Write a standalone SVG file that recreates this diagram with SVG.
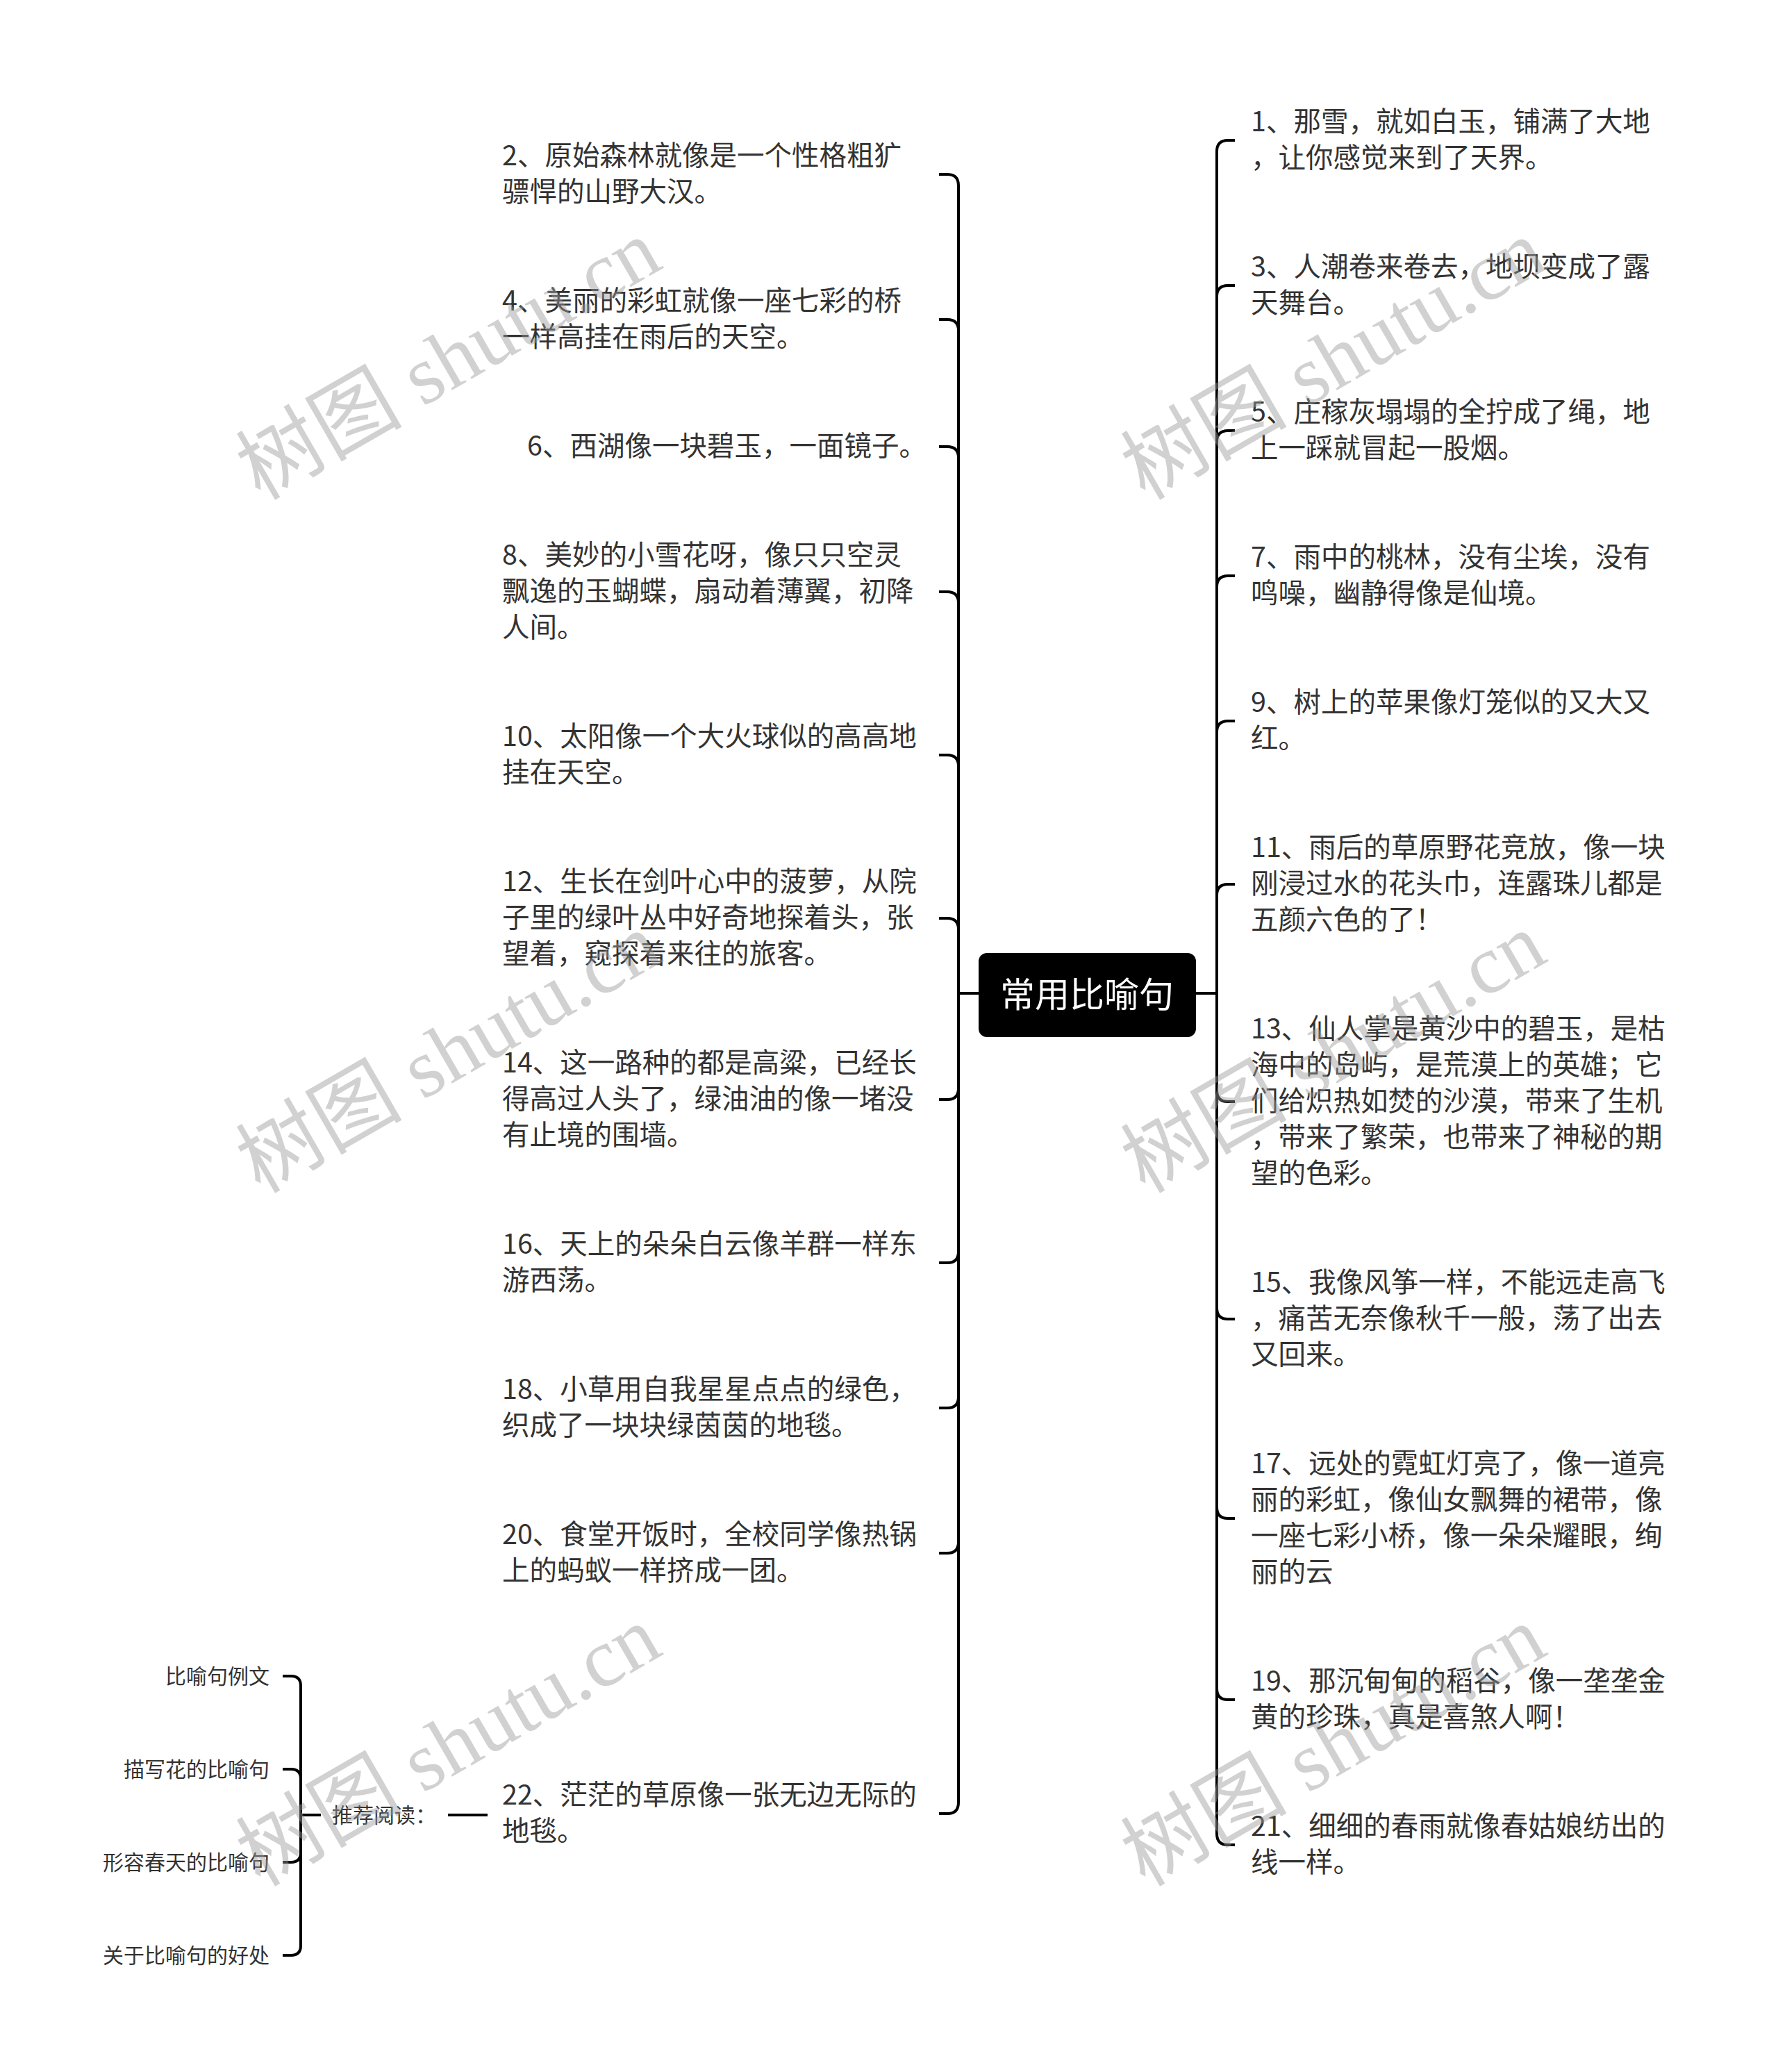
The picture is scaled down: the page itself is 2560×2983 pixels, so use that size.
<svg xmlns="http://www.w3.org/2000/svg" width="2560" height="2983" viewBox="0 0 2560 2983">
<style>
.t{font-family:"Noto Sans CJK SC","Noto Sans",sans-serif;font-size:39.5px;fill:#333;}
.s{font-family:"Noto Sans CJK SC","Noto Sans",sans-serif;font-size:30px;fill:#333;}
.root{font-family:"Noto Sans CJK SC","Noto Sans",sans-serif;font-size:50px;fill:#fff;}
.c{fill:none;stroke:#000;stroke-width:4;}
.wm{font-family:"Liberation Serif","Noto Sans CJK SC",serif;font-size:120px;fill:#999;fill-opacity:0.45;}
</style>
<rect width="2560" height="2983" fill="#fff"/>
<g id="connectors">
<path class="c" d="M1409 1430 H1380"/>
<path class="c" d="M1722 1430 H1752"/>
<path class="c" d="M1380 1430 V267 Q1380 251 1364 251 H1352"/>
<path class="c" d="M1380 1430 V476 Q1380 460 1364 460 H1352"/>
<path class="c" d="M1380 1430 V659 Q1380 643 1364 643 H1352"/>
<path class="c" d="M1380 1430 V868 Q1380 852 1364 852 H1352"/>
<path class="c" d="M1380 1430 V1103 Q1380 1087 1364 1087 H1352"/>
<path class="c" d="M1380 1430 V1338 Q1380 1322 1364 1322 H1352"/>
<path class="c" d="M1380 1430 V1567 Q1380 1583 1364 1583 H1352"/>
<path class="c" d="M1380 1430 V1802 Q1380 1818 1364 1818 H1352"/>
<path class="c" d="M1380 1430 V2011 Q1380 2027 1364 2027 H1352"/>
<path class="c" d="M1380 1430 V2220 Q1380 2236 1364 2236 H1352"/>
<path class="c" d="M1380 1430 V2595 Q1380 2611 1364 2611 H1352"/>
<path class="c" d="M1752 1430 V218 Q1752 202 1768 202 H1778"/>
<path class="c" d="M1752 1430 V427 Q1752 411 1768 411 H1778"/>
<path class="c" d="M1752 1430 V636 Q1752 620 1768 620 H1778"/>
<path class="c" d="M1752 1430 V845 Q1752 829 1768 829 H1778"/>
<path class="c" d="M1752 1430 V1054 Q1752 1038 1768 1038 H1778"/>
<path class="c" d="M1752 1430 V1289 Q1752 1273 1768 1273 H1778"/>
<path class="c" d="M1752 1430 V1570 Q1752 1586 1768 1586 H1778"/>
<path class="c" d="M1752 1430 V1883 Q1752 1899 1768 1899 H1778"/>
<path class="c" d="M1752 1430 V2170 Q1752 2186 1768 2186 H1778"/>
<path class="c" d="M1752 1430 V2431 Q1752 2447 1768 2447 H1778"/>
<path class="c" d="M1752 1430 V2640 Q1752 2656 1768 2656 H1778"/>
<path class="c" d="M645 2613 H702"/>
<path class="c" d="M462 2613 H433"/>
<path class="c" d="M433 2613 V2427 Q433 2413 419 2413 H407"/>
<path class="c" d="M433 2613 V2561 Q433 2547 419 2547 H407"/>
<path class="c" d="M433 2613 V2667 Q433 2681 419 2681 H407"/>
<path class="c" d="M433 2613 V2801 Q433 2815 419 2815 H407"/>
</g>
<g id="root">
<rect x="1409" y="1372" width="313" height="121" rx="12" fill="#000"/>
<text class="root" x="1565" y="1450" text-anchor="middle">常用比喻句</text>
</g>
<g id="n2"><text class="t" x="723" y="238"><tspan x="723">2、原始森林就像是一个性格粗犷</tspan><tspan x="723" dy="52">骠悍的山野大汉。</tspan></text></g>
<g id="n4"><text class="t" x="723" y="447"><tspan x="723">4、美丽的彩虹就像一座七彩的桥</tspan><tspan x="723" dy="52">一样高挂在雨后的天空。</tspan></text></g>
<g id="n6"><text class="t" x="1334" y="656" text-anchor="end">6、西湖像一块碧玉，一面镜子。</text></g>
<g id="n8"><text class="t" x="723" y="813"><tspan x="723">8、美妙的小雪花呀，像只只空灵</tspan><tspan x="723" dy="52">飘逸的玉蝴蝶，扇动着薄翼，初降</tspan><tspan x="723" dy="52">人间。</tspan></text></g>
<g id="n10"><text class="t" x="723" y="1074"><tspan x="723">10、太阳像一个大火球似的高高地</tspan><tspan x="723" dy="52">挂在天空。</tspan></text></g>
<g id="n12"><text class="t" x="723" y="1283"><tspan x="723">12、生长在剑叶心中的菠萝，从院</tspan><tspan x="723" dy="52">子里的绿叶丛中好奇地探着头，张</tspan><tspan x="723" dy="52">望着，窥探着来往的旅客。</tspan></text></g>
<g id="n14"><text class="t" x="723" y="1544"><tspan x="723">14、这一路种的都是高粱，已经长</tspan><tspan x="723" dy="52">得高过人头了，绿油油的像一堵没</tspan><tspan x="723" dy="52">有止境的围墙。</tspan></text></g>
<g id="n16"><text class="t" x="723" y="1805"><tspan x="723">16、天上的朵朵白云像羊群一样东</tspan><tspan x="723" dy="52">游西荡。</tspan></text></g>
<g id="n18"><text class="t" x="723" y="2014"><tspan x="723">18、小草用自我星星点点的绿色，</tspan><tspan x="723" dy="52">织成了一块块绿茵茵的地毯。</tspan></text></g>
<g id="n20"><text class="t" x="723" y="2223"><tspan x="723">20、食堂开饭时，全校同学像热锅</tspan><tspan x="723" dy="52">上的蚂蚁一样挤成一团。</tspan></text></g>
<g id="n22"><text class="t" x="723" y="2598"><tspan x="723">22、茫茫的草原像一张无边无际的</tspan><tspan x="723" dy="52">地毯。</tspan></text></g>
<g id="n1"><text class="t" x="1801" y="189"><tspan x="1801">1、那雪，就如白玉，铺满了大地</tspan><tspan x="1801" dy="52">，让你感觉来到了天界。</tspan></text></g>
<g id="n3"><text class="t" x="1801" y="398"><tspan x="1801">3、人潮卷来卷去，地坝变成了露</tspan><tspan x="1801" dy="52">天舞台。</tspan></text></g>
<g id="n5"><text class="t" x="1801" y="607"><tspan x="1801">5、庄稼灰塌塌的全拧成了绳，地</tspan><tspan x="1801" dy="52">上一踩就冒起一股烟。</tspan></text></g>
<g id="n7"><text class="t" x="1801" y="816"><tspan x="1801">7、雨中的桃林，没有尘埃，没有</tspan><tspan x="1801" dy="52">鸣噪，幽静得像是仙境。</tspan></text></g>
<g id="n9"><text class="t" x="1801" y="1025"><tspan x="1801">9、树上的苹果像灯笼似的又大又</tspan><tspan x="1801" dy="52">红。</tspan></text></g>
<g id="n11"><text class="t" x="1801" y="1234"><tspan x="1801">11、雨后的草原野花竞放，像一块</tspan><tspan x="1801" dy="52">刚浸过水的花头巾，连露珠儿都是</tspan><tspan x="1801" dy="52">五颜六色的了！</tspan></text></g>
<g id="n13"><text class="t" x="1801" y="1495"><tspan x="1801">13、仙人掌是黄沙中的碧玉，是枯</tspan><tspan x="1801" dy="52">海中的岛屿，是荒漠上的英雄；它</tspan><tspan x="1801" dy="52">们给炽热如焚的沙漠，带来了生机</tspan><tspan x="1801" dy="52">，带来了繁荣，也带来了神秘的期</tspan><tspan x="1801" dy="52">望的色彩。</tspan></text></g>
<g id="n15"><text class="t" x="1801" y="1860"><tspan x="1801">15、我像风筝一样，不能远走高飞</tspan><tspan x="1801" dy="52">，痛苦无奈像秋千一般，荡了出去</tspan><tspan x="1801" dy="52">又回来。</tspan></text></g>
<g id="n17"><text class="t" x="1801" y="2121"><tspan x="1801">17、远处的霓虹灯亮了，像一道亮</tspan><tspan x="1801" dy="52">丽的彩虹，像仙女飘舞的裙带，像</tspan><tspan x="1801" dy="52">一座七彩小桥，像一朵朵耀眼，绚</tspan><tspan x="1801" dy="52">丽的云</tspan></text></g>
<g id="n19"><text class="t" x="1801" y="2434"><tspan x="1801">19、那沉甸甸的稻谷，像一垄垄金</tspan><tspan x="1801" dy="52">黄的珍珠，真是喜煞人啊！</tspan></text></g>
<g id="n21"><text class="t" x="1801" y="2643"><tspan x="1801">21、细细的春雨就像春姑娘纺出的</tspan><tspan x="1801" dy="52">线一样。</tspan></text></g>
<g id="rec"><text class="s" x="478" y="2624">推荐阅读：</text></g>
<g id="r1"><text class="s" x="388" y="2424" text-anchor="end">比喻句例文</text></g>
<g id="r2"><text class="s" x="388" y="2558" text-anchor="end">描写花的比喻句</text></g>
<g id="r3"><text class="s" x="388" y="2692" text-anchor="end">形容春天的比喻句</text></g>
<g id="r4"><text class="s" x="388" y="2826" text-anchor="end">关于比喻句的好处</text></g>
<g id="watermarks">
<text class="wm" text-anchor="middle" transform="translate(647 520) rotate(-30)" y="38">树图 shutu.cn</text>
<text class="wm" text-anchor="middle" transform="translate(647 1518) rotate(-30)" y="38">树图 shutu.cn</text>
<text class="wm" text-anchor="middle" transform="translate(647 2516) rotate(-30)" y="38">树图 shutu.cn</text>
<text class="wm" text-anchor="middle" transform="translate(1921 520) rotate(-30)" y="38">树图 shutu.cn</text>
<text class="wm" text-anchor="middle" transform="translate(1921 1518) rotate(-30)" y="38">树图 shutu.cn</text>
<text class="wm" text-anchor="middle" transform="translate(1921 2516) rotate(-30)" y="38">树图 shutu.cn</text>
</g>
</svg>
